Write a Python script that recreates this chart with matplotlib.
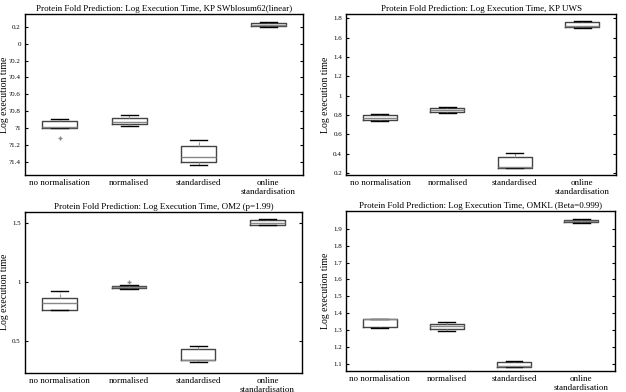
import matplotlib.pyplot as plt

plt.rcParams['font.family'] = ['Liberation Serif', 'DejaVu Serif']

categories = ['no normalisation', 'normalised', 'standardised', 'online\nstandardisation']

# per panel: whislo, q1, med, q3, whishi for each of the 4 groups, plus outliers
titles = [
    'Protein Fold Prediction: Log Execution Time, KP SWblosum62(linear)',
    'Protein Fold Prediction: Log Execution Time, KP UWS',
    'Protein Fold Prediction: Log Execution Time, OM2 (p=1.99)',
    'Protein Fold Prediction: Log Execution Time, OMKL (Beta=0.999)',
]

swb_lo = [-0.99, -0.97, -1.43, 0.19]
swb_q1 = [-0.99, -0.95, -1.40, 0.21]
swb_med = [-0.98, -0.92, -1.34, 0.22]
swb_q3 = [-0.91, -0.88, -1.21, 0.245]
swb_hi = [-0.89, -0.845, -1.14, 0.25]
swb_out = [[-1.11], [], [], []]

uws_lo = [0.735, 0.82, 0.255, 1.70]
uws_q1 = [0.745, 0.835, 0.255, 1.705]
uws_med = [0.765, 0.85, 0.26, 1.72]
uws_q3 = [0.795, 0.875, 0.37, 1.765]
uws_hi = [0.81, 0.88, 0.41, 1.775]
uws_out = [[], [], [], []]

om2_lo = [0.765, 0.935, 0.319, 1.48]
om2_q1 = [0.765, 0.945, 0.336, 1.48]
om2_med = [0.822, 0.955, 0.34, 1.50]
om2_q3 = [0.864, 0.967, 0.432, 1.52]
om2_hi = [0.921, 0.969, 0.455, 1.528]
om2_out = [[], [1.0], [], []]

omkl_lo = [1.316, 1.296, 1.086, 1.935]
omkl_q1 = [1.32, 1.306, 1.086, 1.941]
omkl_med = [1.365, 1.326, 1.087, 1.945]
omkl_q3 = [1.369, 1.34, 1.115, 1.951]
omkl_hi = [1.369, 1.351, 1.12, 1.955]
omkl_out = [[], [], [], []]

panels = [
    (swb_lo, swb_q1, swb_med, swb_q3, swb_hi, swb_out),
    (uws_lo, uws_q1, uws_med, uws_q3, uws_hi, uws_out),
    (om2_lo, om2_q1, om2_med, om2_q3, om2_hi, om2_out),
    (omkl_lo, omkl_q1, omkl_med, omkl_q3, omkl_hi, omkl_out),
]

ylims = [(-1.55, 0.35), (0.18, 1.845), (0.23, 1.593), (1.06, 2.004)]
yticks = [
    [0.2, 0, -0.2, -0.4, -0.6, -0.8, -1, -1.2, -1.4],
    [1.8, 1.6, 1.4, 1.2, 1, 0.8, 0.6, 0.4, 0.2],
    [1.5, 1, 0.5],
    [1.9, 1.8, 1.7, 1.6, 1.5, 1.4, 1.3, 1.2, 1.1],
]
# the original renders the minus sign as '?'
yticklabels = [
    ['0.2', '0', '?0.2', '?0.4', '?0.6', '?0.8', '?1', '?1.2', '?1.4'],
    ['1.8', '1.6', '1.4', '1.2', '1', '0.8', '0.6', '0.4', '0.2'],
    ['1.5', '1', '0.5'],
    ['1.9', '1.8', '1.7', '1.6', '1.5', '1.4', '1.3', '1.2', '1.1'],
]

positions = [
    [0.040, 0.5536, 0.444, 0.411],
    [0.553, 0.5536, 0.431, 0.411],
    [0.040, 0.049, 0.4425, 0.411],
    [0.553, 0.0536, 0.429, 0.408],
]
ylabel_x = [5, 326, 5, 325]

fig = plt.figure(figsize=(6.26, 3.92), dpi=100)

for i, (lo, q1, med, q3, hi, out) in enumerate(panels):
    ax = fig.add_axes(positions[i])
    stats = []
    for j in range(4):
        stats.append(dict(whislo=lo[j], q1=q1[j], med=med[j], q3=q3[j],
                          whishi=hi[j], fliers=out[j]))
    ax.bxp(stats, positions=[1, 2, 3, 4], widths=0.5, showfliers=True,
           boxprops=dict(color='#444444', linewidth=1.0),
           medianprops=dict(color='#888888', linewidth=1.0),
           whiskerprops=dict(color='#999999', linewidth=0.8, linestyle='--'),
           capprops=dict(color='black', linewidth=1.0),
           flierprops=dict(marker='+', markeredgecolor='#888888',
                           markersize=3.5, linestyle='none'))
    ax.set_xlim(0.5, 4.5)
    ax.set_ylim(*ylims[i])
    ax.set_yticks(yticks[i])
    ax.set_yticklabels(yticklabels[i])
    ax.set_xticks([1, 2, 3, 4])
    ax.set_xticklabels(categories, fontsize=6.5, linespacing=1.1)
    ax.tick_params(axis='y', direction='in', length=2, labelsize=5,
                   right=True, pad=3)
    ax.tick_params(axis='x', length=0, pad=3)
    for s in ax.spines.values():
        s.set_linewidth(1.0)
    ax.set_ylabel('Log execution time', fontsize=7)
    ycenter = positions[i][1] + positions[i][3] / 2
    ax.yaxis.set_label_coords(ylabel_x[i] / 626, ycenter,
                              transform=fig.transFigure)
    ax.yaxis.label.set_va('center')
    ax.set_title(titles[i], fontsize=6.5, pad=2)

fig.savefig('out.png', dpi=100)
